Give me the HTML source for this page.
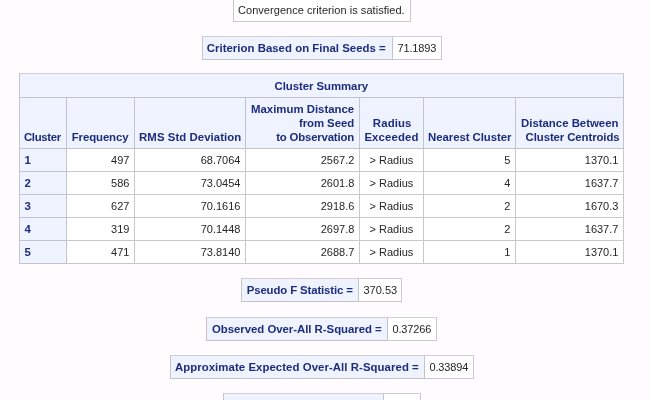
<!DOCTYPE html>
<html><head><meta charset="utf-8">
<style>
html,body{margin:0;padding:0;}
body{background:#fffbff;width:650px;height:400px;overflow:hidden;position:relative;font-family:"Liberation Sans",sans-serif;font-size:11px;color:#000;}
table{border-collapse:separate;border-spacing:0;position:absolute;table-layout:fixed;border-top:1px solid #d0ced3;border-left:1px solid #c6c4ca;}
td,th{box-sizing:border-box;border-right:1px solid #cac8cb;border-bottom:1px solid #cac8cb;padding:0 5px;font-size:11px;line-height:14px;white-space:nowrap;vertical-align:middle;overflow:hidden;}
th{background:#eff3ff;color:#1c2c7e;border-color:#c3c3ce;font-weight:bold;font-size:11.4px;}
td{background:#fff;text-align:right;color:#262626;padding-right:4.6px}
td.n{text-align:left;padding-left:4.5px;padding-right:0;letter-spacing:-0.15px}
.l{text-align:left}.r{text-align:right}.c{text-align:center}
.kv td,.kv th{height:23px;}
#main th.h{vertical-align:bottom;padding-bottom:4px;}
#main tr.d td,#main tr.d th{height:23px;}
#main tr.d th{padding-left:4.5px}
#main td.g{text-align:left;padding-left:6.5px}
</style></head><body>
<table class="kv" style="left:233px;top:-2px;width:178px"><tr><td class="l" style="padding-left:4px"><span style="letter-spacing:0.047px;position:relative;left:0.00px">Convergence criterion is satisfied.</span></td></tr></table>
<table class="kv" style="left:202px;top:36px;width:240px"><colgroup><col style="width:190px"><col style="width:49px"></colgroup><tr><th class="l"><span style="letter-spacing:0.026px;position:relative;left:-1.26px">Criterion Based on Final Seeds =</span></th><td class="n">71.1893</td></tr></table>
<table id="main" style="left:19px;top:73px;width:605px">
<colgroup><col style="width:47px"><col style="width:68px"><col style="width:111px"><col style="width:114px"><col style="width:64px"><col style="width:92px"><col style="width:108px"></colgroup>
<tr><th colspan="7" class="c" style="height:24px"><span style="letter-spacing:-0.057px;position:relative;left:-0.21px">Cluster Summary</span></th></tr>
<tr><th class="h l" style="height:51px"><span style="letter-spacing:-0.333px;position:relative;left:-1.09px">Cluster</span></th><th class="h r"><span style="letter-spacing:-0.100px;position:relative;left:-0.56px">Frequency</span></th><th class="h r"><span style="letter-spacing:0.050px;position:relative;left:-0.91px">RMS Std Deviation</span></th><th class="h r"><span style="letter-spacing:0.000px;position:relative;left:0.00px">Maximum Distance</span><br><span style="letter-spacing:-0.050px;position:relative;left:0.17px">from Seed</span><br><span style="letter-spacing:-0.185px;position:relative;left:0.00px">to Observation</span></th><th class="h c"><span style="letter-spacing:0.114px;position:relative;left:0.70px">Radius</span><br><span style="letter-spacing:0.114px;position:relative;left:-0.63px">Exceeded</span></th><th class="h r"><span style="letter-spacing:-0.057px;position:relative;left:-0.98px">Nearest Cluster</span></th><th class="h r"><span style="letter-spacing:0.000px;position:relative;left:0.00px">Distance Between</span><br><span style="letter-spacing:-0.100px;position:relative;left:1.47px">Cluster Centroids</span></th></tr>
<tr class="d"><th class="l">1</th><td>497</td><td>68.7064</td><td>2567.2</td><td class="g">&nbsp;&gt; Radius</td><td>5</td><td>1370.1</td></tr>
<tr class="d"><th class="l">2</th><td>586</td><td>73.0454</td><td>2601.8</td><td class="g">&nbsp;&gt; Radius</td><td>4</td><td>1637.7</td></tr>
<tr class="d"><th class="l">3</th><td>627</td><td>70.1616</td><td>2918.6</td><td class="g">&nbsp;&gt; Radius</td><td>2</td><td>1670.3</td></tr>
<tr class="d"><th class="l">4</th><td>319</td><td>70.1448</td><td>2697.8</td><td class="g">&nbsp;&gt; Radius</td><td>2</td><td>1637.7</td></tr>
<tr class="d"><th class="l">5</th><td>471</td><td>73.8140</td><td>2688.7</td><td class="g">&nbsp;&gt; Radius</td><td>1</td><td>1370.1</td></tr>
</table>
<table class="kv" style="left:241px;top:278px;width:161px"><colgroup><col style="width:117px"><col style="width:43px"></colgroup><tr><th class="l"><span style="letter-spacing:-0.126px;position:relative;left:-0.28px">Pseudo F Statistic =</span></th><td class="n" style="letter-spacing:0">370.53</td></tr></table>
<table class="kv" style="left:206px;top:317px;width:231px"><colgroup><col style="width:181px"><col style="width:49px"></colgroup><tr><th class="l"><span style="letter-spacing:-0.029px;position:relative;left:-0.07px">Observed Over-All R-Squared =</span></th><td class="n">0.37266</td></tr></table>
<table class="kv" style="left:170px;top:355px;width:304px"><colgroup><col style="width:254px"><col style="width:49px"></colgroup><tr><th class="l"><span style="letter-spacing:0.060px;position:relative;left:-1.12px">Approximate Expected Over-All R-Squared =</span></th><td class="n">0.33894</td></tr></table>
<table class="kv" style="left:223px;top:393px;width:198px"><colgroup><col style="width:160px"><col style="width:37px"></colgroup><tr><th>&nbsp;</th><td>&nbsp;</td></tr></table>
</body></html>
